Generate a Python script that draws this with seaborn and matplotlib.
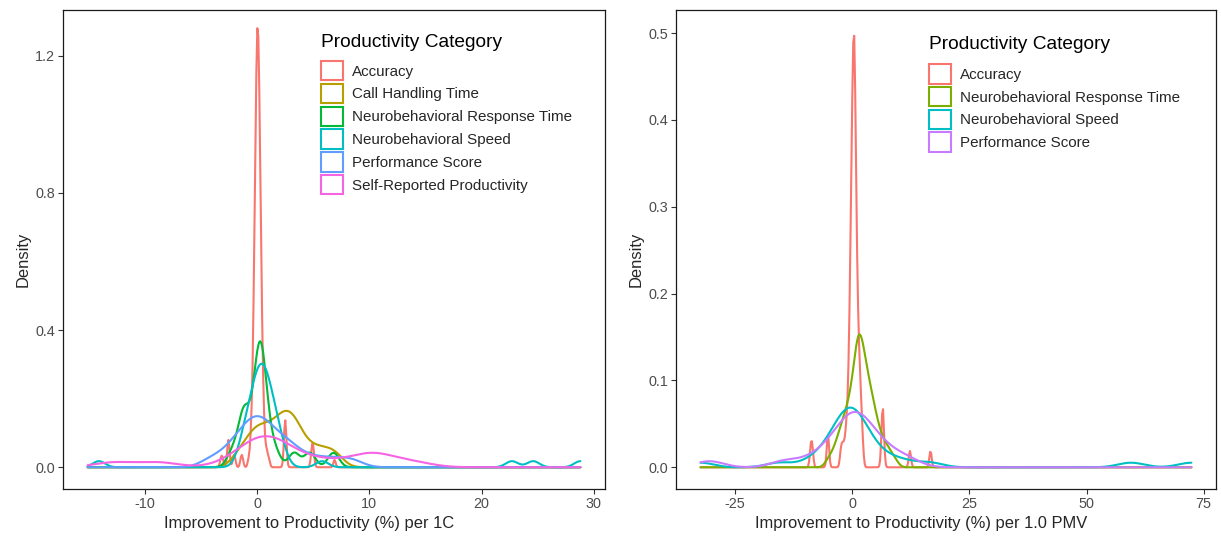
import numpy as np
import pandas as pd
import matplotlib
matplotlib.use("Agg")
import matplotlib.pyplot as plt
from matplotlib.patches import Patch
from matplotlib.ticker import FormatStrFormatter
import seaborn as sns

# ---- estimates of improvement (%), as value / number of estimates ----
# panel 1: per 1C
acc_1c_x = [-3.22, -3.08, -2.62, -2.56, -2.5, -2.11, -1.99, -1.43, -1.31,
            -0.75, -0.55, -0.4, -0.25, -0.1, 0.05, 0.2, 0.35, 0.5, 0.65, 0.85, 1.05,
            2.44, 2.5, 2.56, 4.84, 4.94, 5.04, 6.9]
acc_1c_n = [1, 1, 1, 2, 1, 1, 1, 1, 1,
            1, 3, 7, 18, 31, 39, 31, 18, 8, 3, 2, 1,
            2, 3, 2, 1, 2, 1, 1]
cht_1c_x = [-1.5, -0.3, 0.8, 1.9, 2.7, 3.5, 4.6, 5.7, 6.9]
cht_1c_n = [1, 2, 2, 2, 2, 2, 1, 1, 1]
nrt_1c_x = [-2.2, -1.3, -1.0, -0.1, 0.2, 0.5, 0.9, 1.6, 3.3, 4.7, 6.8]
nrt_1c_n = [1, 2, 2, 2, 4, 3, 1, 1, 1, 1, 1]
ns_1c_x = [-14.1, -1.6, -1.2, -0.8, -0.4, 0.0, 0.4, 0.8, 1.2, 1.6, 2.0, 2.4,
           5.8, 22.7, 24.6, 28.8]
ns_1c_n = [1, 1, 2, 3, 4, 5, 6, 5, 4, 3, 2, 1, 1, 1, 1, 1]
ps_1c_x = [-4.2, -3.0, -2.0, -1.0, 0.0, 1.0, 2.0, 3.0, 4.2, 5.5, 7.0, 8.5]
ps_1c_n = [1, 1, 2, 3, 4, 3, 2, 2, 1, 1, 1, 1]
srp_1c_x = [-12.8, -8.8, -2.0, -0.5, 0.8, 2.2, 4.0, 6.3, 9.4, 10.2, 11.0, 13.8]
srp_1c_n = [1, 1, 1, 2, 3, 2, 1, 1, 1, 1, 1, 1]

# panel 2: per 1.0 PMV
acc_pmv_x = [-8.85, -8.55, -5.2, -2.4, -2.0, -1.6, -1.2, -0.8, -0.5, -0.2, 0.1, 0.4,
             0.7, 1.0, 1.3, 1.6, 1.9, 2.2, 6.35, 6.5, 6.65, 12.3, 16.7]
acc_pmv_n = [1, 1, 2, 1, 1, 1, 2, 3, 5, 9, 12, 15,
             10, 6, 4, 3, 2, 1, 1, 2, 1, 1, 1]
nrt_pmv_x = [-5.2, -4.4, -3.6, -2.8, -2.0, -1.2, -0.4, 0.4, 1.2, 2.0, 2.8, 3.6,
             4.4, 5.2, 6.0, 6.8, 7.6, 8.4, 9.2]
nrt_pmv_n = [1, 1, 2, 3, 4, 5, 6, 8, 13, 11, 9, 7, 6, 4, 3, 2, 2, 1, 1]
ns_pmv_x = [-32.4, -15.6, -9.0, -6.5, -4.5, -2.5, -1.0, 0.5, 2.0, 3.5, 5.5, 8.0,
            11.0, 16.5, 59.5, 72.4]
ns_pmv_n = [1, 1, 1, 1, 2, 3, 4, 4, 2, 2, 1, 1, 1, 1, 1, 1]
ps_pmv_x = [-30.5, -14.5, -9.0, -6.0, -3.5, -1.5, 0.5, 2.5, 4.5, 6.5, 9.0, 12.0]
ps_pmv_n = [1, 1, 1, 1, 2, 2, 4, 2, 2, 1, 1, 1]

cats_1c = ["Accuracy", "Call Handling Time", "Neurobehavioral Response Time",
           "Neurobehavioral Speed", "Performance Score", "Self-Reported Productivity"]
cats_pmv = ["Accuracy", "Neurobehavioral Response Time", "Neurobehavioral Speed",
            "Performance Score"]

# kernel bandwidth (in % units) per category
bw_1c = {"Accuracy": 0.1, "Call Handling Time": 0.8, "Neurobehavioral Response Time": 0.5,
         "Neurobehavioral Speed": 0.55, "Performance Score": 1.0,
         "Self-Reported Productivity": 1.8}
bw_pmv = {"Accuracy": 0.25, "Neurobehavioral Response Time": 0.8,
          "Neurobehavioral Speed": 2.8, "Performance Score": 3.0}

range_1c = (-15.1, 28.8)
range_pmv = (-32.4, 72.4)

pal_1c = ["#F8766D", "#B79F00", "#00BA38", "#00BFC4", "#619CFF", "#F564E3"]
pal_pmv = ["#F8766D", "#7CAE00", "#00BFC4", "#C77CFF"]

sns.set_theme(style="white")
plt.rcParams["font.family"] = ["Liberation Sans", "DejaVu Sans"]
plt.rcParams["axes.unicode_minus"] = False


def density_panel(ax, cats, xs, ns, bws, colors, xr):
    for cat, x, n, col in zip(cats, xs, ns, colors):
        d = pd.DataFrame({"x": x, "n": n})
        sd = np.sqrt(np.cov(d["x"], aweights=d["n"]))
        sns.kdeplot(data=d, x="x", weights="n", bw_method=bws[cat] / sd,
                    cut=1000, clip=xr, gridsize=512, color=col, linewidth=1.5, ax=ax)
    span = xr[1] - xr[0]
    ax.set_xlim(xr[0] - 0.05 * span, xr[1] + 0.05 * span)
    handles = [Patch(facecolor="white", edgecolor=c, linewidth=1.5, label=l)
               for c, l in zip(colors, cats)]
    return handles


fig = plt.figure(figsize=(12.21, 5.41), dpi=100)
ax1 = fig.add_axes([0.0516, 0.0961, 0.4439, 0.8854])
ax2 = fig.add_axes([0.5536, 0.0961, 0.4423, 0.8854])

h1 = density_panel(ax1, cats_1c,
                   [acc_1c_x, cht_1c_x, nrt_1c_x, ns_1c_x, ps_1c_x, srp_1c_x],
                   [acc_1c_n, cht_1c_n, nrt_1c_n, ns_1c_n, ps_1c_n, srp_1c_n],
                   bw_1c, pal_1c, range_1c)
h2 = density_panel(ax2, cats_pmv,
                   [acc_pmv_x, nrt_pmv_x, ns_pmv_x, ps_pmv_x],
                   [acc_pmv_n, nrt_pmv_n, ns_pmv_n, ps_pmv_n],
                   bw_pmv, pal_pmv, range_pmv)

ax1.set_ylim(-0.0635, 1.3335)
ax1.set_yticks([0, 0.4, 0.8, 1.2])
ax1.set_xticks([-10, 0, 10, 20, 30])
ax2.set_ylim(-0.025, 0.5265)
ax2.set_yticks([0, 0.1, 0.2, 0.3, 0.4, 0.5])
ax2.set_xticks([-25, 0, 25, 50, 75])

ax1.set_xlabel("Improvement to Productivity (%) per 1C", fontsize=11.9)
ax2.set_xlabel("Improvement to Productivity (%) per 1.0 PMV", fontsize=11.9)

legend_spots = [(ax1, h1, 0.476, 0.933, 0.8935), (ax2, h2, 0.4685, 0.927, 0.887)]
for ax, h, lx, ty, ky in legend_spots:
    ax.set_ylabel("Density", fontsize=11.9)
    ax.xaxis.set_label_coords(0.454, -0.057)
    ax.yaxis.set_label_coords(-0.06, 0.48)
    ax.yaxis.set_major_formatter(FormatStrFormatter("%.1f"))
    ax.tick_params(direction="out", length=3.6, width=0.8, color="#333333",
                   labelcolor="#4D4D4D", labelsize=10.4, pad=2.2,
                   bottom=True, left=True)
    for s in ax.spines.values():
        s.set_color("#1a1a1a")
        s.set_linewidth(0.9)
    ax.grid(False)
    ax.text(lx, ty, "Productivity Category", transform=ax.transAxes,
            fontsize=13.8, va="center", ha="left", color="black")
    ax.legend(handles=h, loc="upper left", bbox_to_anchor=(lx, ky),
              frameon=False, fontsize=10.9, handlelength=1.45, handleheight=1.6,
              handletextpad=0.6, labelspacing=0.22, borderaxespad=0,
              borderpad=0)

fig.savefig("out.png", dpi=100)
